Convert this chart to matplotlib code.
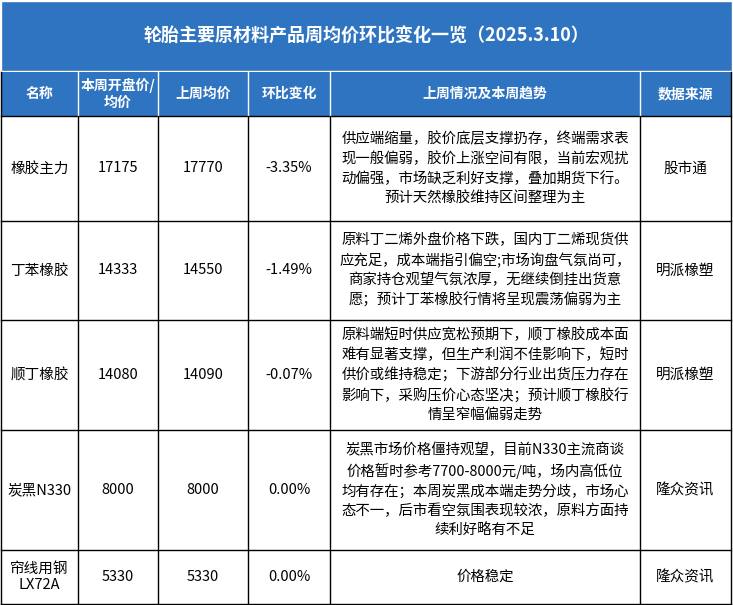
import matplotlib
matplotlib.use("Agg")
import matplotlib.pyplot as plt
from matplotlib.patches import Rectangle

plt.rcParams['font.family'] = ['Noto Sans CJK SC', 'DejaVu Sans']

title = "轮胎主要原材料产品周均价环比变化一览（2025.3.10）"
headers = ["名称", "本周开盘价/\n均价", "上周均价", "环比变化", "上周情况及本周趋势", "数据来源"]
names = ["橡胶主力", "丁苯橡胶", "顺丁橡胶", "炭黑N330", "帘线用钢\nLX72A"]
this_week = [17175, 14333, 14080, 8000, 5330]
last_week = [17770, 14550, 14090, 8000, 5330]
changes = ["-3.35%", "-1.49%", "-0.07%", "0.00%", "0.00%"]
trends = [
    "供应端缩量，胶价底层支撑扔存，终端需求表\n现一般偏弱，胶价上涨空间有限，当前宏观扰\n动偏强，市场缺乏利好支撑，叠加期货下行。\n预计天然橡胶维持区间整理为主",
    "原料丁二烯外盘价格下跌，国内丁二烯现货供\n应充足，成本端指引偏空;市场询盘气氛尚可，\n商家持仓观望气氛浓厚，无继续倒挂出货意\n愿；预计丁苯橡胶行情将呈现震荡偏弱为主",
    "原料端短时供应宽松预期下，顺丁橡胶成本面\n难有显著支撑，但生产利润不佳影响下，短时\n供价或维持稳定；下游部分行业出货压力存在\n影响下，采购压价心态坚决；预计顺丁橡胶行\n情呈窄幅偏弱走势",
    "炭黑市场价格僵持观望，目前N330主流商谈\n价格暂时参考7700-8000元/吨，场内高低位\n均有存在；本周炭黑成本端走势分歧，市场心\n态不一，后市看空氛围表现较浓，原料方面持\n续利好略有不足",
    "价格稳定",
]
sources = ["股市通", "明派橡塑", "明派橡塑", "隆众资讯", "隆众资讯"]

W, H = 733, 605
fig = plt.figure(figsize=(W/100, H/100), dpi=100)
ax = fig.add_axes([0, 0, 1, 1])
ax.set_xlim(0, W); ax.set_ylim(H, 0); ax.axis('off')

blue = "#2f74c0"
xs = [1, 78, 158, 248, 330, 640, 731]
ys = [72, 116, 221, 320, 430, 550, 604]

ax.add_patch(Rectangle((1, 1), W-2, 70, facecolor=blue, edgecolor="white", lw=1))
ax.text(W/2, 36, title, color="white", fontsize=13, fontweight="bold", ha="center", va="center")
ax.add_patch(Rectangle((1, ys[0]), W-2, ys[1]-ys[0], facecolor=blue, edgecolor="none"))
for i, h in enumerate(headers):
    ax.text((xs[i]+xs[i+1])/2, (ys[0]+ys[1])/2, h, color="white", fontsize=10, fontweight="bold",
            ha="center", va="center", linespacing=1.2)

for r in range(len(names)):
    yc = (ys[r+1]+ys[r+2])/2
    vals = [names[r], str(this_week[r]), str(last_week[r]), changes[r], trends[r], sources[r]]
    for c, v in enumerate(vals):
        ax.text((xs[c]+xs[c+1])/2, yc, v, color="black", fontsize=10.4 if c == 4 else 10.5,
                ha="center", va="center", linespacing=1.45 if c == 4 else 1.2)

for y in ys[1:]:
    ax.plot([1, 731], [y, y], color="black", lw=1)
ax.plot([1, 1], [ys[0], ys[-1]], color="black", lw=1)
ax.plot([731, 731], [ys[0], ys[-1]], color="black", lw=1)
for x in xs[1:-1]:
    ax.plot([x, x], [ys[0], ys[1]], color="white", lw=1)
    ax.plot([x, x], [ys[1], ys[-1]], color="black", lw=1)

fig.savefig("out.png", dpi=100)
